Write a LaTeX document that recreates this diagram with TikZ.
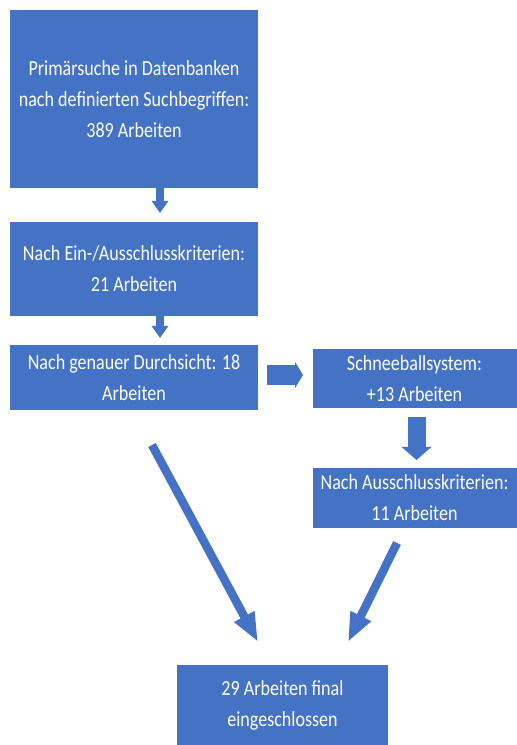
\documentclass[tikz,border=0pt]{standalone}
\usepackage{fontspec}
\setmainfont{Carlito}[FakeStretch=0.84]
\usetikzlibrary{arrows.meta}
\definecolor{boxblue}{RGB}{68,114,196}
\tikzset{
  flowbox/.style={draw=none, fill=boxblue, text=white, align=center, inner sep=0pt,
    font=\fontsize{21.5pt}{31pt}\selectfont},
  blockarrow/.style={draw=boxblue, line cap=butt},
}
\begin{document}
\begin{tikzpicture}[x=1pt,y=1pt]
\useasboundingbox (0,0) rectangle (517,745);
\node[flowbox, minimum width=248pt, minimum height=178pt] (b1) at (134,646)
  {Primärsuche in Datenbanken\\nach definierten Suchbegriffen:\\389 Arbeiten};
\node[flowbox, minimum width=248pt, minimum height=94pt] (b2) at (134,476)
  {Nach Ein-/Ausschlusskriterien:\\21 Arbeiten};
\node[flowbox, minimum width=248pt, minimum height=65pt] (b3) at (134,367.5)
  {Nach genauer Durchsicht: 18\\Arbeiten};
\node[flowbox, minimum width=204pt, minimum height=59pt] (b4) at (414.5,366.5)
  {Schneeballsystem:\\+13 Arbeiten};
\node[flowbox, minimum width=204pt, minimum height=60pt] (b5) at (414.5,247)
  {Nach Ausschlusskriterien:\\11 Arbeiten};
\node[flowbox, minimum width=211pt, minimum height=80pt] (b6) at (282.5,40)
  {29 Arbeiten final\\eingeschlossen};
% coordinates for connector ends
\coordinate (a1s) at (160,557);
\coordinate (a1e) at (160,532);
\coordinate (a2s) at (160,429);
\coordinate (a2e) at (160,407);
\coordinate (a3s) at (267,370);
\coordinate (a3e) at (303,370);
\coordinate (a4s) at (416.5,328);
\coordinate (a4e) at (416.5,285);
\coordinate (l1s) at (152,300);
\coordinate (l1e) at (258,103);
\coordinate (r1s) at (397,202);
\coordinate (r1e) at (348,103);
\draw[blockarrow, line width=8pt, -{Triangle[width=16pt,length=12pt]}] (a1s) -- (a1e);
\draw[blockarrow, line width=8pt, -{Triangle[width=16pt,length=12pt]}] (a2s) -- (a2e);
\draw[blockarrow, line width=20pt, -{Triangle[width=26pt,length=8pt]}] (a3s) -- (a3e);
\draw[blockarrow, line width=18pt, -{Triangle[width=29pt,length=13pt]}] (a4s) -- (a4e);
\draw[blockarrow, line width=8.5pt, -{Triangle[width=21pt,length=29pt]}] (l1s) -- (l1e);
\draw[blockarrow, line width=8.5pt, -{Triangle[width=21pt,length=29pt]}] (r1s) -- (r1e);
\end{tikzpicture}
\end{document}
